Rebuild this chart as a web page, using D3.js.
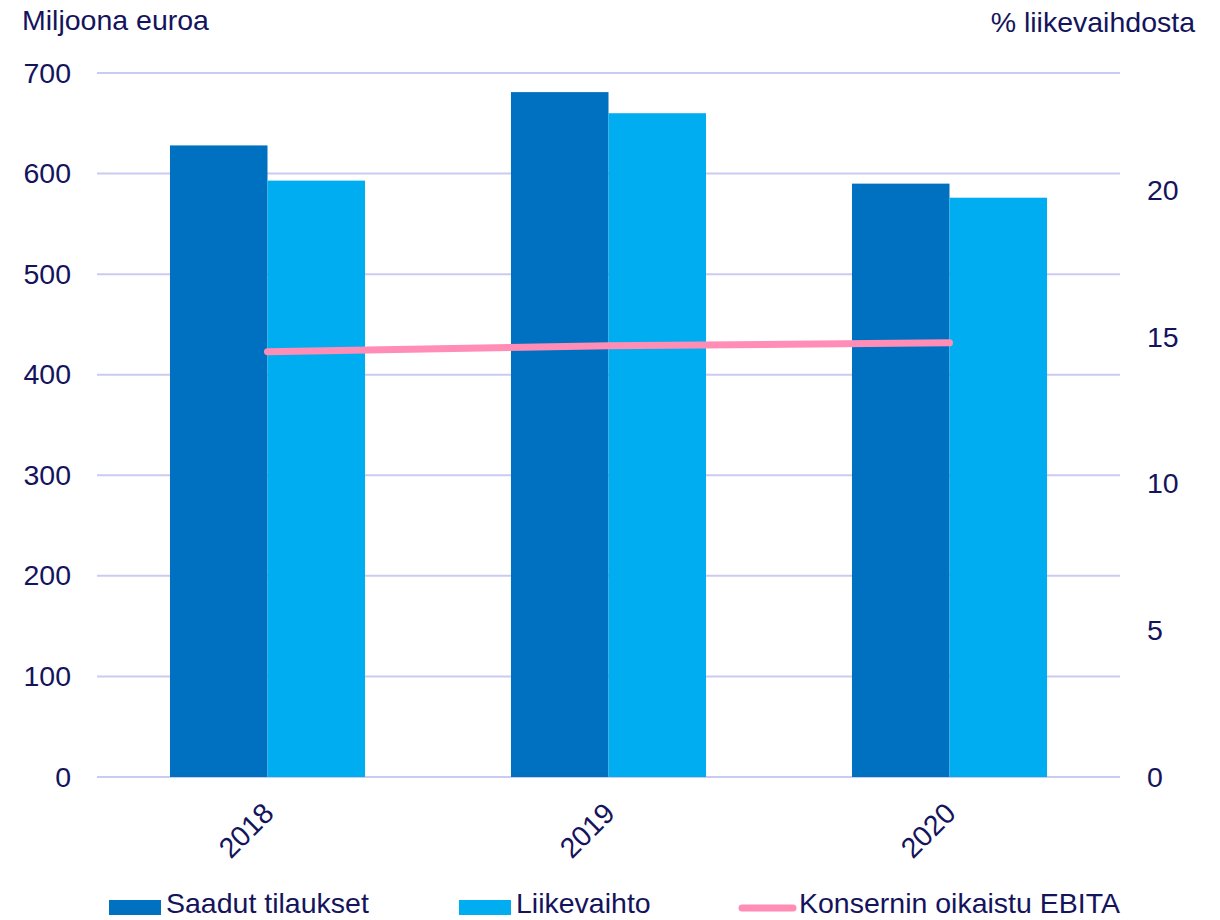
<!DOCTYPE html>
<html lang="fi">
<head>
  <meta charset="UTF-8">
  <title>Saadut tilaukset, liikevaihto ja EBITA</title>
  <script src="https://d3js.org/d3.v7.min.js"></script>
  <style>
    body {
      margin: 0;
      background: #ffffff;
    }

    svg text {
      font-family: "Liberation Sans", Arial, sans-serif;
      fill: #14145c;
    }
  </style>
</head>
<body>
  <svg id="chart"></svg>

  <script>
    // data
    const years = ["2018", "2019", "2020"];
    const saadutTilaukset = [628, 681, 590];
    const liikevaihto = [593, 660, 576];
    const ebita = [14.5, 14.7, 14.8];
    const leftTicks = [0, 100, 200, 300, 400, 500, 600, 700];
    const rightTicks = [0, 5, 10, 15, 20];

    const seriesNames = ["Saadut tilaukset", "Liikevaihto"];
    const colors = { "Saadut tilaukset": "#0070c0", "Liikevaihto": "#00adf0" };
    const lineColor = "#ff8db6";
    const gridColor = "#cbcbf2";
    const fontSize = 28.5;

    const width = 1220;
    const height = 920;
    const margin = { top: 73, right: 100, bottom: 143, left: 97 };
    const chartWidth = width - margin.left - margin.right;
    const chartHeight = height - margin.top - margin.bottom;

    const svg = d3.select("#chart")
      .attr("width", width)
      .attr("height", height);

    const chart = svg.append("g")
      .attr("transform", `translate(${margin.left}, ${margin.top})`);

    const x0 = d3.scaleBand()
      .domain(years)
      .range([0, chartWidth])
      .paddingInner(0.428)
      .paddingOuter(0.214);

    const x1 = d3.scaleBand()
      .domain(seriesNames)
      .range([0, x0.bandwidth()]);

    const yLeft = d3.scaleLinear().domain([0, 700]).range([chartHeight, 0]);
    const yRight = d3.scaleLinear().domain([0, 24]).range([chartHeight, 0]);

    // gridlines
    chart.selectAll("line.grid")
      .data(leftTicks)
      .enter()
      .append("line")
      .attr("class", "grid")
      .attr("x1", 0)
      .attr("x2", chartWidth)
      .attr("y1", d => yLeft(d))
      .attr("y2", d => yLeft(d))
      .attr("stroke", gridColor)
      .attr("stroke-width", 2);

    // bars
    const rows = years.map((year, i) => ({
      year,
      values: [
        { name: "Saadut tilaukset", value: saadutTilaukset[i] },
        { name: "Liikevaihto", value: liikevaihto[i] }
      ]
    }));

    chart.selectAll("g.year")
      .data(rows)
      .enter()
      .append("g")
      .attr("class", "year")
      .attr("transform", d => `translate(${x0(d.year)}, 0)`)
      .selectAll("rect")
      .data(d => d.values)
      .enter()
      .append("rect")
      .attr("x", d => x1(d.name))
      .attr("y", d => yLeft(d.value))
      .attr("width", x1.bandwidth())
      .attr("height", d => chartHeight - yLeft(d.value))
      .attr("fill", d => colors[d.name]);

    // EBITA line on the right axis
    const line = d3.line()
      .x((d, i) => x0(years[i]) + x0.bandwidth() / 2)
      .y(d => yRight(d));

    chart.append("path")
      .datum(ebita)
      .attr("d", line)
      .attr("fill", "none")
      .attr("stroke", lineColor)
      .attr("stroke-width", 7)
      .attr("stroke-linecap", "round");

    // left axis
    const leftAxis = chart.append("g")
      .call(d3.axisLeft(yLeft).tickValues(leftTicks).tickSize(0).tickPadding(26));
    leftAxis.select(".domain").remove();
    leftAxis.selectAll("text")
      .attr("font-size", fontSize)
      .attr("fill", "#14145c");

    // right axis
    const rightAxis = chart.append("g")
      .attr("transform", `translate(${chartWidth}, 0)`)
      .call(d3.axisRight(yRight).tickValues(rightTicks).tickSize(0).tickPadding(27));
    rightAxis.select(".domain").remove();
    rightAxis.selectAll("text")
      .attr("font-size", fontSize)
      .attr("fill", "#14145c");

    // x labels, rotated
    chart.selectAll("text.year-label")
      .data(years)
      .enter()
      .append("text")
      .attr("class", "year-label")
      .attr("transform", d => `translate(${x0(d) + x0.bandwidth() / 2 + 8}, ${chartHeight + 38}) rotate(-45)`)
      .attr("text-anchor", "end")
      .attr("font-size", fontSize)
      .text(d => d);

    // axis titles
    svg.append("text")
      .attr("x", 22)
      .attr("y", 30)
      .attr("font-size", fontSize)
      .text("Miljoona euroa");

    svg.append("text")
      .attr("x", 1195)
      .attr("y", 32)
      .attr("text-anchor", "end")
      .attr("font-size", fontSize)
      .text("% liikevaihdosta");

    // legend
    const legend = svg.append("g");
    const legendY = 913;

    legend.append("rect")
      .attr("x", 109).attr("y", legendY - 13)
      .attr("width", 52).attr("height", 15)
      .attr("fill", colors["Saadut tilaukset"]);
    legend.append("text")
      .attr("x", 166).attr("y", legendY)
      .attr("font-size", fontSize)
      .text("Saadut tilaukset");

    legend.append("rect")
      .attr("x", 459).attr("y", legendY - 13)
      .attr("width", 52).attr("height", 15)
      .attr("fill", colors["Liikevaihto"]);
    legend.append("text")
      .attr("x", 516).attr("y", legendY)
      .attr("font-size", fontSize)
      .text("Liikevaihto");

    legend.append("line")
      .attr("x1", 742).attr("x2", 793)
      .attr("y1", legendY - 5).attr("y2", legendY - 5)
      .attr("stroke", lineColor)
      .attr("stroke-width", 7)
      .attr("stroke-linecap", "round");
    legend.append("text")
      .attr("x", 799).attr("y", legendY)
      .attr("font-size", fontSize)
      .text("Konsernin oikaistu EBITA");
  </script>
</body>
</html>
